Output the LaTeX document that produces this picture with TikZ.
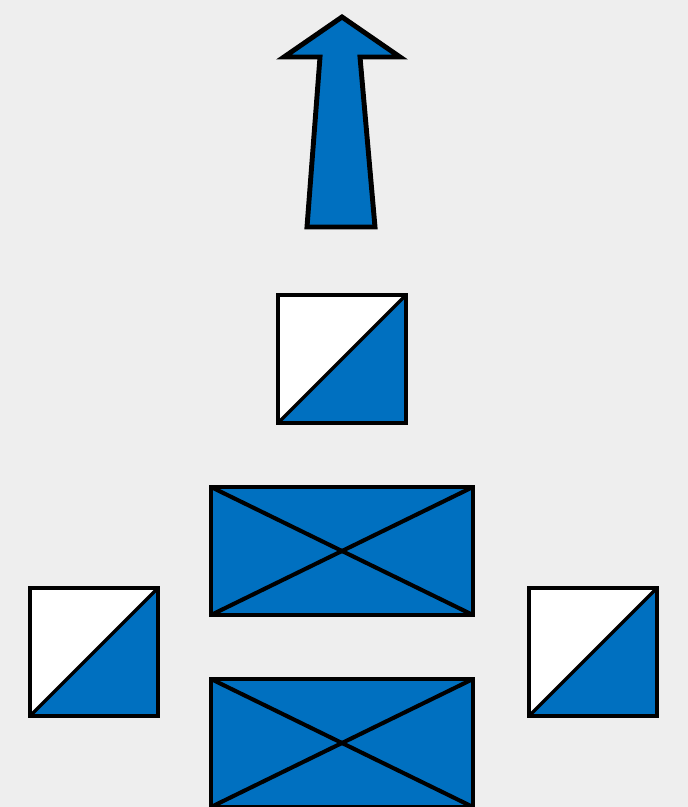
\documentclass[tikz,border=0pt]{standalone}
\usetikzlibrary{calc, backgrounds}
\definecolor{greybg}{RGB}{238,238,238}
\definecolor{blockcol}{RGB}{0,112,192}

\begin{document}
\begin{tikzpicture}[
    x=0.025cm, y=-0.025cm,
    background rectangle/.style={fill=greybg},
    show background rectangle,
    outline/.style={draw=black, line width=3.5pt, line join=miter},
    diag/.style={draw=black, line width=2.9pt},
]

\path[use as bounding box] (0,0) rectangle (688,807);

% ════════════════════════════════════════════════════════
% 0. ARROW (pointing up)
% ════════════════════════════════════════════════════════
\coordinate (TIP) at (342,17);
\filldraw[outline, fill=blockcol]
    (TIP) -- (400,57) -- (360,57) -- (375,227) -- (307,227)
    -- (320,57) -- (284,57) -- cycle;

% ════════════════════════════════════════════════════════
% 1. HALF-FILLED SQUARES (upper-left white, lower-right blue)
% ════════════════════════════════════════════════════════
\foreach \sx/\sy/\sw in {278/295/128, 30/588/128, 529/588/128} {
    \fill[white]    (\sx,\sy) rectangle ++(\sw,128);
    \fill[blockcol] (\sx,\sy+128) -- ++(\sw,0) -- ++(0,-128) -- cycle;
    \draw[diag, line width=2.3pt] (\sx,\sy+128) -- ++(\sw,-128);
    \draw[outline] (\sx,\sy) rectangle ++(\sw,128);
}

% ════════════════════════════════════════════════════════
% 2. CROSSED RECTANGLES
% ════════════════════════════════════════════════════════
\foreach \ry in {487, 679} {
    \coordinate (A) at (211,\ry);
    \coordinate (B) at (473,\ry+128);
    \fill[blockcol] (A) rectangle (B);
    \draw[diag] (A) -- (B);
    \draw[diag] (A |- B) -- (B |- A);
    \draw[outline] (A) rectangle (B);
}

\end{tikzpicture}
\end{document}
